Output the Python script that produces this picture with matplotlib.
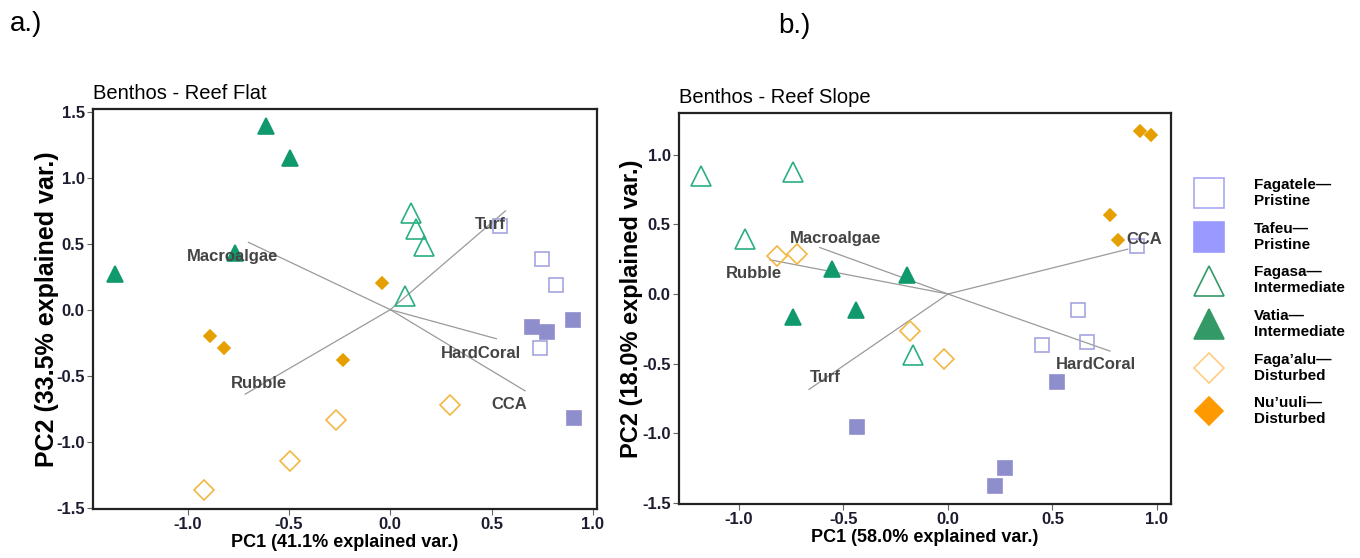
import matplotlib
matplotlib.use("Agg")
import matplotlib.pyplot as plt
from matplotlib.lines import Line2D

plt.rcParams["font.family"] = ["Liberation Sans", "DejaVu Sans"]

# site groups, in legend order
sites = ["Fagatele\u2014\nPristine", "Tafeu\u2014\nPristine",
         "Fagasa\u2014\nIntermediate", "Vatia\u2014\nIntermediate",
         "Faga\u2019alu\u2014\nDisturbed", "Nu\u2019uuli\u2014\nDisturbed"]

# a.) Reef flat scores (PC1, PC2)
flat_fagatele_x = [0.54, 0.75, 0.82, 0.74]
flat_fagatele_y = [0.63, 0.38, 0.19, -0.29]
flat_tafeu_x = [0.70, 0.775, 0.90, 0.905]
flat_tafeu_y = [-0.13, -0.17, -0.08, -0.82]
flat_fagasa_x = [0.10, 0.127, 0.166, 0.074]
flat_fagasa_y = [0.73, 0.61, 0.48, 0.10]
flat_vatia_x = [-0.613, -0.496, -0.765, -1.356]
flat_vatia_y = [1.39, 1.15, 0.427, 0.27]
flat_fagaalu_x = [0.295, -0.27, -0.496, -0.917]
flat_fagaalu_y = [-0.72, -0.835, -1.15, -1.366]
flat_nuuuli_x = [-0.043, -0.89, -0.82, -0.234]
flat_nuuuli_y = [0.20, -0.196, -0.29, -0.384]

flat_vars = ["Turf", "Macroalgae", "HardCoral", "CCA", "Rubble"]
flat_load_x = [0.568, -0.70, 0.523, 0.665, -0.716]
flat_load_y = [0.748, 0.51, -0.22, -0.615, -0.64]
flat_lab_x = [0.494, -0.78, 0.445, 0.585, -0.648]
flat_lab_y = [0.648, 0.40, -0.33, -0.716, -0.557]

# b.) Reef slope scores
slope_fagatele_x = [0.905, 0.62, 0.663, 0.449]
slope_fagatele_y = [0.348, -0.112, -0.346, -0.365]
slope_tafeu_x = [0.521, -0.434, 0.274, 0.226]
slope_tafeu_y = [-0.632, -0.952, -1.248, -1.377]
slope_fagasa_x = [-1.184, -0.742, -0.973, -0.168]
slope_fagasa_y = [0.847, 0.876, 0.394, -0.44]
slope_vatia_x = [-0.553, -0.194, -0.742, -0.439]
slope_vatia_y = [0.18, 0.138, -0.165, -0.112]
slope_fagaalu_x = [-0.816, -0.722, -0.18, -0.017]
slope_fagaalu_y = [0.27, 0.289, -0.267, -0.465]
slope_nuuuli_x = [0.917, 0.972, 0.775, 0.814]
slope_nuuuli_y = [1.17, 1.145, 0.566, 0.389]

slope_vars = ["Macroalgae", "Rubble", "Turf", "HardCoral", "CCA"]
slope_load_x = [-0.614, -0.853, -0.665, 0.775, 0.86]
slope_load_y = [0.334, 0.246, -0.685, -0.41, 0.322]
slope_lab_x = [-0.536, -0.93, -0.588, 0.706, 0.937]
slope_lab_y = [0.40, 0.15, -0.60, -0.506, 0.394]

# marker styles: (marker, size, face, edge)
styles = [
    ("s", 10.5, "none", "#A4A4E2"),
    ("s", 10, "#8E8ECC", "#8E8ECC"),
    ("^", 14, "none", "#2AAE84"),
    ("^", 11.5, "#11996E", "#11996E"),
    ("D", 10.5, "none", "#F2B845"),
    ("D", 6.5, "#E69F00", "#E69F00"),
]
legend_styles = [
    ("s", 21, "white", "#A8A8F4"),
    ("s", 21, "#9999FF", "#9999FF"),
    ("^", 22, "white", "#339966"),
    ("^", 22, "#339966", "#339966"),
    ("D", 15, "white", "#FFCC80"),
    ("D", 14, "#FF9900", "#FF9900"),
]

tick_color = "#1c1c30"


def draw_panel(ax, xs, ys, vars_, lx, ly, tx, ty, title, xlab, ylab, xlim, ylim, yticks, ysize, ypad):
    for v, x, y in zip(vars_, lx, ly):
        ax.plot([0, x], [0, y], color="#9a9a9a", lw=0.9, zorder=1)
    for (m, ms, fc, ec), x, y in zip(styles, xs, ys):
        ax.plot(x, y, linestyle="none", marker=m, markersize=ms,
                markerfacecolor=fc, markeredgecolor=ec, markeredgewidth=1.2, zorder=2)
    for v, x, y in zip(vars_, tx, ty):
        ax.text(x, y, v, ha="center", va="center", fontsize=12,
                fontweight="bold", color="#444444", zorder=3)
    ax.set_xlim(*xlim)
    ax.set_ylim(*ylim)
    ax.set_xticks([-1.0, -0.5, 0.0, 0.5, 1.0])
    ax.set_yticks(yticks)
    ax.xaxis.set_major_formatter(matplotlib.ticker.FormatStrFormatter("%.1f"))
    ax.yaxis.set_major_formatter(matplotlib.ticker.FormatStrFormatter("%.1f"))
    ax.tick_params(length=4, width=0.8, color="#666666", labelcolor=tick_color, pad=2)
    for lab in ax.get_xticklabels() + ax.get_yticklabels():
        lab.set_fontweight("bold")
        lab.set_fontsize(12)
    for s in ax.spines.values():
        s.set_linewidth(1.6)
        s.set_color("#222222")
    ax.set_title(title, loc="left", fontsize=14.5, pad=7)
    ax.set_xlabel(xlab, fontsize=13, fontweight="bold", labelpad=1)
    ax.set_ylabel(ylab, fontsize=ysize, fontweight="bold", labelpad=ypad)


fig = plt.figure(figsize=(13.6, 5.58), dpi=100)
ax1 = fig.add_axes([93 / 1360, (558 - 509) / 558, (597 - 93) / 1360, (509 - 109) / 558])
ax2 = fig.add_axes([679 / 1360, (558 - 504) / 558, (1171 - 679) / 1360, (504 - 113) / 558])

draw_panel(ax1,
           [flat_fagatele_x, flat_tafeu_x, flat_fagasa_x, flat_vatia_x, flat_fagaalu_x, flat_nuuuli_x],
           [flat_fagatele_y, flat_tafeu_y, flat_fagasa_y, flat_vatia_y, flat_fagaalu_y, flat_nuuuli_y],
           flat_vars, flat_load_x, flat_load_y, flat_lab_x, flat_lab_y,
           "Benthos - Reef Flat", "PC1 (41.1% explained var.)", "PC2 (33.5% explained var.)",
           (-1.467, 1.02), (-1.51, 1.52), [-1.5, -1.0, -0.5, 0.0, 0.5, 1.0, 1.5], 18, -2)

draw_panel(ax2,
           [slope_fagatele_x, slope_tafeu_x, slope_fagasa_x, slope_vatia_x, slope_fagaalu_x, slope_nuuuli_x],
           [slope_fagatele_y, slope_tafeu_y, slope_fagasa_y, slope_vatia_y, slope_fagaalu_y, slope_nuuuli_y],
           slope_vars, slope_load_x, slope_load_y, slope_lab_x, slope_lab_y,
           "Benthos - Reef Slope", "PC1 (58.0% explained var.)", "PC2 (18.0% explained var.)",
           (-1.287, 1.067), (-1.508, 1.30), [-1.5, -1.0, -0.5, 0.0, 0.5, 1.0], 17, -1)

fig.text(10 / 1360, 1 - 24 / 558, "a.)", fontsize=20, va="center", ha="left")
fig.text(778 / 1360, 1 - 26 / 558, "b.)", fontsize=20, va="center", ha="left")

handles = [Line2D([], [], linestyle="none", marker=m, markersize=ms,
                  markerfacecolor=fc, markeredgecolor=ec, markeredgewidth=1.2)
           for m, ms, fc, ec in legend_styles]
fig.legend(handles, sites, loc="upper left", bbox_to_anchor=(1194 / 1360, 1 - 178 / 558),
           frameon=False, borderpad=0, borderaxespad=0, handlelength=1.9,
           handletextpad=2.0, labelspacing=0.88,
           prop={"family": "Liberation Sans", "weight": "bold", "size": 11})

fig.savefig("out.png", dpi=100)
